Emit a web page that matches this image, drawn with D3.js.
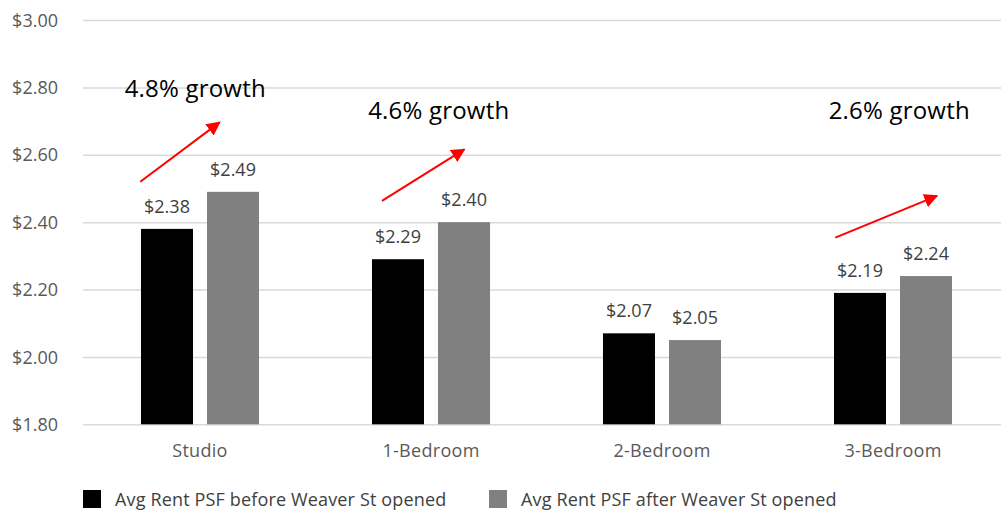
<!DOCTYPE html>
<html>
<head>
<meta charset="utf-8">
<script src="https://cdn.jsdelivr.net/npm/d3@7/dist/d3.min.js"></script>
<style>
  html, body { margin: 0; padding: 0; background: #fff; }
  svg { display: block; font-family: "Open Sans", sans-serif; }
</style>
</head>
<body>
<svg id="chart" width="1001" height="511"></svg>
<script>
// Average rent per square foot by unit type
const categories = ["Studio", "1-Bedroom", "2-Bedroom", "3-Bedroom"];
const seriesNames = ["Avg Rent PSF before Weaver St opened", "Avg Rent PSF after Weaver St opened"];
const rentBefore = [2.38, 2.29, 2.07, 2.19];
const rentAfter = [2.49, 2.40, 2.05, 2.24];
const yTicks = [1.80, 2.00, 2.20, 2.40, 2.60, 2.80, 3.00];

// Growth callouts: label text, and the arrow's start/end along the value axis
const calloutCategories = ["Studio", "1-Bedroom", "3-Bedroom"];
const calloutTexts = ["4.8% growth", "4.6% growth", "2.6% growth"];
const calloutFrom = [2.52, 2.463, 2.354];
const calloutTo = [2.696, 2.616, 2.478];
const calloutLabelAt = [2.771, 2.707, 2.707];

const colors = ["#000000", "#808080"];

const svg = d3.select("#chart");
const plot = { left: 84.5, right: 1008.5, top: 20, bottom: 424.3 };

const y = d3.scaleLinear().domain([1.8, 3.0]).range([plot.bottom, plot.top]);
const x0 = d3.scaleBand().domain(categories)
  .range([plot.left, plot.right])
  .paddingInner(0.489).paddingOuter(0.2445);
const x1 = d3.scaleBand().domain(seriesNames)
  .range([0, x0.bandwidth()])
  .paddingInner(0.212);

// Gridlines and value axis
const yAxis = d3.axisLeft(y).tickValues(yTicks)
  .tickSize(-(1001 - 83))
  .tickFormat(d => "$" + d3.format(".2f")(d));
const gAxis = svg.append("g").attr("transform", "translate(83,0)").call(yAxis);
gAxis.select(".domain").remove();
gAxis.selectAll(".tick line").attr("stroke", "#d9d9d9").attr("stroke-width", 1.5);
gAxis.selectAll(".tick text")
  .attr("x", -25).attr("dy", "0.34em")
  .attr("fill", "#595959").attr("font-size", 18)
  .attr("font-family", "'Open Sans', sans-serif");

// Category axis labels
svg.append("g").selectAll("text").data(categories).join("text")
  .attr("x", d => x0(d) + x0.bandwidth() / 2)
  .attr("y", 457)
  .attr("text-anchor", "middle")
  .attr("fill", "#595959").attr("font-size", 18)
  .attr("letter-spacing", 0.3)
  .text(d => d);

// Bars
const rows = categories.map((c, i) => ({ cat: c, values: [rentBefore[i], rentAfter[i]] }));
const groups = svg.append("g").selectAll("g").data(rows).join("g")
  .attr("transform", d => `translate(${x0(d.cat)},0)`);

groups.selectAll("rect").data(d => d.values.map((v, j) => ({ v, s: seriesNames[j], j })))
  .join("rect")
  .attr("x", d => x1(d.s))
  .attr("width", x1.bandwidth())
  .attr("y", d => y(d.v))
  .attr("height", d => y(1.8) - y(d.v))
  .attr("fill", d => colors[d.j]);

groups.selectAll("text.val").data(d => d.values.map((v, j) => ({ v, s: seriesNames[j] })))
  .join("text").attr("class", "val")
  .attr("x", d => x1(d.s) + x1.bandwidth() / 2)
  .attr("y", d => y(d.v) - 16)
  .attr("text-anchor", "middle")
  .attr("fill", "#404040").attr("font-size", 18)
  .text(d => "$" + d3.format(".2f")(d.v));

// Growth callouts with red arrows
const defs = svg.append("defs");
defs.append("marker")
  .attr("id", "arrowhead")
  .attr("viewBox", "0 0 10 10")
  .attr("refX", 9).attr("refY", 5)
  .attr("markerWidth", 7).attr("markerHeight", 7)
  .attr("markerUnits", "strokeWidth")
  .attr("orient", "auto")
  .append("path").attr("d", "M0,0 L10,5 L0,10 Z").attr("fill", "#ff0000");

// horizontal placement of each callout relative to its bar group
const calloutOffsets = [
  { from: -0.7, to: 78.6, label: 54.3 },
  { from: 10, to: 92.3, label: 66.8 },
  { from: 1.3, to: 103, label: 65.3 }
];

const callouts = svg.append("g");
calloutCategories.forEach((c, i) => {
  const gx = x0(c);
  const off = calloutOffsets[i];
  callouts.append("line")
    .attr("x1", gx + off.from).attr("y1", y(calloutFrom[i]))
    .attr("x2", gx + off.to).attr("y2", y(calloutTo[i]))
    .attr("stroke", "#ff0000").attr("stroke-width", 2)
    .attr("marker-end", "url(#arrowhead)");
  callouts.append("text")
    .attr("x", gx + off.label).attr("y", y(calloutLabelAt[i]))
    .attr("text-anchor", "middle")
    .attr("fill", "#000").attr("font-size", 24)
    .attr("letter-spacing", 0.2)
    .text(calloutTexts[i]);
});

// Legend
const legendX = [83, 489];
const legend = svg.append("g").selectAll("g").data(seriesNames).join("g")
  .attr("transform", (d, i) => `translate(${legendX[i]},490)`);
legend.append("rect").attr("width", 18).attr("height", 18)
  .attr("fill", (d, i) => colors[i]);
legend.append("text").attr("x", 32).attr("y", 16)
  .attr("fill", "#404040").attr("font-size", 18)
  .attr("letter-spacing", 0.15)
  .text(d => d);
</script>
</body>
</html>
